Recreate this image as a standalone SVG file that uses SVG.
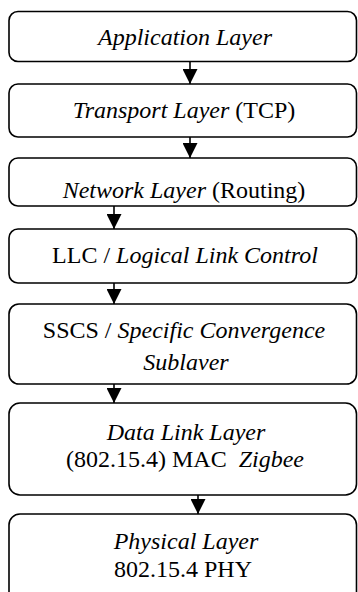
<svg xmlns="http://www.w3.org/2000/svg" width="358" height="592" viewBox="0 0 358 592">
<style>
.box{fill:#fff;stroke:#000;stroke-width:1.6}
.t{font-family:'Liberation Serif', 'Times New Roman', serif;font-size:24px;fill:#000;text-anchor:middle}
.i{font-style:italic}
.conn line{stroke:#000;stroke-width:1.6}
</style>
<defs>
<marker id="ah" viewBox="0 0 15 15" refX="15" refY="7.5" markerWidth="15" markerHeight="15" markerUnits="userSpaceOnUse" orient="auto">
<path d="M0,0 L15,7.5 L0,15 Z" fill="#000"/>
</marker>
</defs>
<rect width="358" height="592" fill="#fff"/>
<g id="connectors" class="conn">
<line x1="190" y1="62" x2="190" y2="84" marker-end="url(#ah)"/>
<line x1="190" y1="137" x2="190" y2="158" marker-end="url(#ah)"/>
<line x1="114" y1="206" x2="114" y2="229" marker-end="url(#ah)"/>
<line x1="114" y1="283" x2="114" y2="304" marker-end="url(#ah)"/>
<line x1="114" y1="384" x2="114" y2="403" marker-end="url(#ah)"/>
<line x1="198" y1="495" x2="198" y2="514" marker-end="url(#ah)"/>
</g>
<g id="application">
<rect class="box" x="9" y="11.5" width="347.5" height="50" rx="9"/>
<text x="185" y="45" class="t i">Application Layer</text>
</g>
<g id="transport">
<rect class="box" x="9" y="84" width="347.5" height="53" rx="9"/>
<text x="184" y="118" class="t"><tspan class="i">Transport Layer</tspan> (TCP)</text>
</g>
<g id="network">
<rect class="box" x="9" y="158" width="347.5" height="48" rx="9"/>
<text x="184" y="198" class="t"><tspan class="i">Network Layer</tspan> (Routing)</text>
</g>
<g id="llc">
<rect class="box" x="9" y="229" width="347.5" height="54" rx="9"/>
<text x="185" y="263" class="t">LLC / <tspan class="i">Logical Link Control</tspan></text>
</g>
<g id="sscs">
<rect class="box" x="9" y="304" width="347.5" height="80" rx="10"/>
<text x="184" y="338" class="t">SSCS / <tspan class="i">Specific Convergence</tspan></text>
<text x="186" y="370" class="t i">Sublaver</text>
</g>
<g id="datalink">
<rect class="box" x="9" y="403" width="347.5" height="92" rx="11"/>
<text x="186" y="440" class="t i">Data Link Layer</text>
<text x="185" y="467" class="t" xml:space="preserve">(802.15.4) MAC  <tspan class="i">Zigbee</tspan></text>
</g>
<g id="physical">
<rect class="box" x="9" y="514" width="347.5" height="90" rx="11"/>
<text x="186" y="549" class="t i">Physical Layer</text>
<text x="183" y="577" class="t">802.15.4 PHY</text>
</g>
</svg>
